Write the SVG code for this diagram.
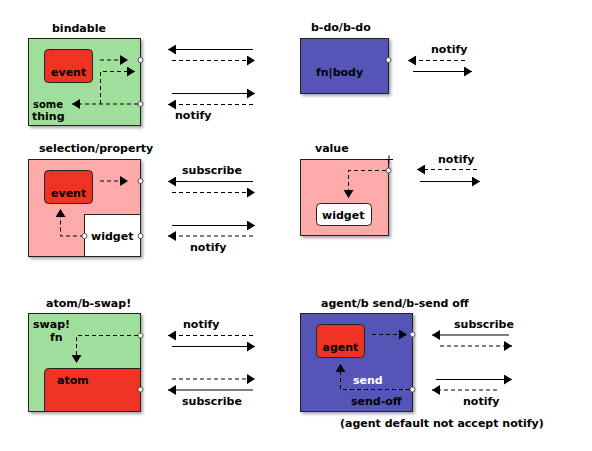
<svg xmlns="http://www.w3.org/2000/svg" width="592" height="451" viewBox="0 0 592 451">
<style>
text{font-family:"DejaVu Sans","Liberation Sans",sans-serif;font-weight:bold;font-size:11px;fill:#000}
.frame{stroke:#222;stroke-width:1}
.green{fill:#9fdf9b}
.pink{fill:#ffaaaa}
.blue{fill:#5555b8}
.red{fill:#ee3322}
.white{fill:#fff}
.sh{filter:url(#shadow)}
.s{stroke:#000;stroke-width:1;fill:none;marker-end:url(#ah)}
.d{stroke:#000;stroke-width:1;fill:none;stroke-dasharray:4 3;marker-end:url(#ah)}
.port{fill:#fff;stroke:#333;stroke-width:0.8}
</style>
<defs>
<marker id="ah" viewBox="0 0 8 10" refX="8" refY="5" markerWidth="8" markerHeight="10" markerUnits="userSpaceOnUse" orient="auto">
<path d="M0,0 L8,5 L0,10 z" fill="#000"/>
</marker>
<filter id="shadow" x="-10%" y="-10%" width="130%" height="130%">
<feDropShadow dx="2" dy="2" stdDeviation="1.5" flood-color="#000" flood-opacity="0.35"/>
</filter>
</defs>
<rect width="592" height="451" fill="#fff"/>

<g id="bindable">
<text x="52" y="32">bindable</text>
<rect class="green frame sh" x="28.5" y="38.5" width="112" height="87"/>
<rect class="red frame" x="44.5" y="49.5" width="48" height="33" rx="4"/>
<text x="51" y="76">event</text>
<text x="33" y="108" style="font-size:10px">some</text>
<text x="32" y="119.5">thing</text>
</g>

<g id="bdo">
<text x="311" y="31">b-do/b-do</text>
<rect class="blue frame sh" x="300.5" y="38.5" width="88" height="55"/>
<text x="316" y="76">fn|body</text>
</g>

<g id="selection">
<text x="39" y="152">selection/property</text>
<rect class="pink frame sh" x="28.5" y="159.5" width="112" height="97"/>
<rect class="white frame" x="84.5" y="214.5" width="56" height="42"/>
<rect class="red frame" x="44.5" y="170.5" width="48" height="33" rx="4"/>
<text x="51" y="197">event</text>
<text x="91" y="240">widget</text>
</g>

<g id="value">
<text x="315" y="152">value</text>
<rect class="pink frame sh" x="300.5" y="159.5" width="88" height="76"/>
<rect class="white frame" x="316.5" y="203.5" width="55" height="22" rx="4"/>
<text x="322" y="218.5">widget</text>
<path d="M385,159.5 H393 M389,155.5 V163.5" stroke="#000" stroke-width="1"/>
</g>

<g id="atom">
<text x="46" y="307">atom/b-swap!</text>
<rect class="green frame sh" x="28.5" y="313.5" width="112" height="98"/>
<path class="red frame" d="M44.5,411.5 V372.5 Q44.5,368.5 48.5,368.5 H140.5 V411.5 Z"/>
<text x="33" y="328">swap!</text>
<text x="50" y="341">fn</text>
<text x="57" y="383.5">atom</text>
</g>

<g id="agent">
<text x="321" y="307">agent/b send/b-send off</text>
<rect class="blue frame sh" x="300.5" y="313.5" width="112" height="98"/>
<rect class="red frame" x="316.5" y="324.5" width="48" height="33" rx="4"/>
<text x="322.5" y="351">agent</text>
<text x="353" y="383.5" style="fill:#fff">send</text>
<text x="351" y="405">send-off</text>
<text x="340" y="427">(agent default not accept notify)</text>
</g>

<g id="connectors">
<line class="d" x1="100" y1="60" x2="128" y2="60"/>
<polyline class="d" points="100.5,104 100.5,71.5 135,71.5"/>
<line class="d" x1="138" y1="104" x2="72" y2="104"/>
<circle class="port" cx="140.5" cy="60" r="2.5"/>
<circle class="port" cx="140.5" cy="104" r="2.5"/>
<text x="175" y="41" style="fill:#fff">subscribe</text>
<line class="s" x1="253" y1="49.5" x2="168" y2="49.5"/>
<line class="d" x1="172" y1="60.5" x2="255" y2="60.5"/>
<line class="s" x1="172" y1="93.5" x2="255" y2="93.5"/>
<line class="d" x1="253" y1="104.5" x2="168" y2="104.5"/>
<text x="175" y="119">notify</text>
<circle class="port" cx="388.5" cy="60" r="2.5"/>
<text x="431" y="53">notify</text>
<line class="d" x1="465" y1="60.5" x2="408" y2="60.5"/>
<line class="s" x1="413" y1="71.5" x2="472" y2="71.5"/>
<line class="d" x1="100" y1="181" x2="128" y2="181"/>
<circle class="port" cx="140.5" cy="181" r="2.5"/>
<polyline class="d" points="84,236 60.5,236 60.5,209"/>
<circle class="port" cx="84.5" cy="236" r="2.5"/>
<circle class="port" cx="140.5" cy="236" r="2.5"/>
<text x="182" y="174">subscribe</text>
<line class="s" x1="253" y1="181.5" x2="168" y2="181.5"/>
<line class="d" x1="172" y1="192.5" x2="255" y2="192.5"/>
<line class="s" x1="172" y1="225.5" x2="255" y2="225.5"/>
<line class="d" x1="253" y1="236" x2="168" y2="236"/>
<text x="190" y="251">notify</text>
<polyline class="d" points="386,170.5 348.5,170.5 348.5,198"/>
<circle class="port" cx="388.5" cy="170.5" r="2.5"/>
<text x="438" y="163">notify</text>
<line class="d" x1="477" y1="169.5" x2="417" y2="169.5"/>
<line class="s" x1="420" y1="181.5" x2="480" y2="181.5"/>
<polyline class="d" points="138,335.5 76.5,335.5 76.5,363"/>
<circle class="port" cx="140.5" cy="335.5" r="2.5"/>
<circle class="port" cx="140.5" cy="389.5" r="2.5"/>
<text x="183" y="328">notify</text>
<line class="d" x1="253" y1="335.5" x2="168" y2="335.5"/>
<line class="s" x1="172" y1="346.5" x2="255" y2="346.5"/>
<line class="d" x1="172" y1="379" x2="255" y2="379"/>
<line class="s" x1="253" y1="390" x2="168" y2="390"/>
<text x="182" y="405">subscribe</text>
<line class="d" x1="372" y1="334.5" x2="407" y2="334.5"/>
<circle class="port" cx="412.5" cy="334.5" r="2.5"/>
<polyline class="d" points="410,389.5 340.5,389.5 340.5,364"/>
<circle class="port" cx="412.5" cy="389.5" r="2.5"/>
<text x="454" y="328">subscribe</text>
<line class="s" x1="509" y1="335" x2="432" y2="335"/>
<line class="d" x1="440" y1="346" x2="512" y2="346"/>
<line class="s" x1="436" y1="379.5" x2="512" y2="379.5"/>
<line class="d" x1="497" y1="390" x2="432" y2="390"/>
<text x="463" y="405">notify</text>
</g>
</svg>
